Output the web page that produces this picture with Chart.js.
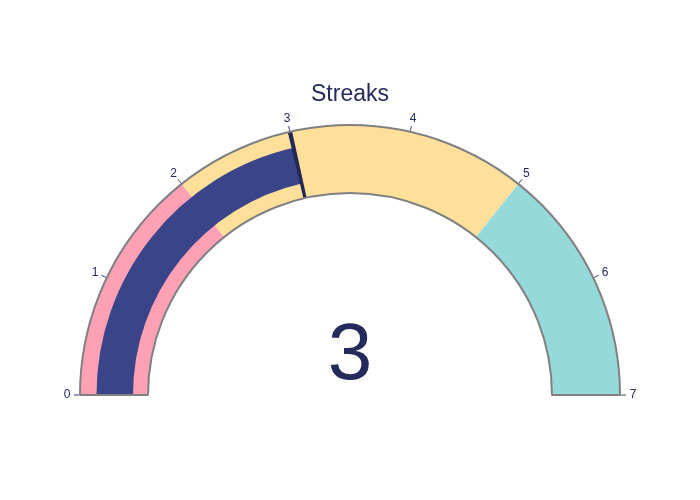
<!DOCTYPE html>
<html>
<head>
<meta charset="utf-8">
<script src="https://cdn.jsdelivr.net/npm/chart.js@4"></script>
<style>
html,body{margin:0;padding:0;background:#fff;overflow:hidden;}
#wrap{position:relative;width:700px;height:500px;overflow:hidden;}
#wrap canvas{position:absolute;left:0;top:0;}
</style>
</head>
<body>
<div id="wrap">
<canvas id="cSteps" width="700" height="790"></canvas>
<canvas id="cBar" width="700" height="790"></canvas>
<canvas id="cThr" width="700" height="790"></canvas>
<canvas id="cOut" width="700" height="790"></canvas>
</div>
<script>
// ---- data ----
const gaugeTitle = "Streaks";
const gaugeMin = 0;
const gaugeMax = 7;
const stepEdges = [0, 2, 5, 7];
const stepColors = ["#FFA1B5", "#FFE09B", "#96D9DB"];
const barValue = 3;
const thresholdValue = 3;
const tickValues = [0, 1, 2, 3, 4, 5, 6, 7];
const tickLabels = ["0", "1", "2", "3", "4", "5", "6", "7"];

const NAVY = "#252a5c";
const T = "rgba(0,0,0,0)";
const span = gaugeMax - gaugeMin;

function baseOptions(radius, cutout, extraPlugins) {
  return {
    responsive: false,
    animation: false,
    events: [],
    rotation: -90,
    circumference: 360,
    radius: radius,
    cutout: cutout,
    layout: { padding: 0 },
    plugins: { legend: { display: false }, tooltip: { enabled: false }, title: { display: false } }
  };
}

// steps ring
const stepData = [];
for (let i = 0; i < stepEdges.length - 1; i++) stepData.push(stepEdges[i + 1] - stepEdges[i]);
stepData.push(span);
new Chart(document.getElementById("cSteps"), {
  type: "doughnut",
  data: { datasets: [{ data: stepData, backgroundColor: stepColors.concat([T]), borderWidth: 0 }] },
  options: baseOptions(270, "74.8%")
});

// value bar
new Chart(document.getElementById("cBar"), {
  type: "doughnut",
  data: { datasets: [{ data: [barValue - gaugeMin, gaugeMax - barValue, span], backgroundColor: ["#3A4489", T, T], borderWidth: 0 }] },
  options: baseOptions(253.5, "85.6%")
});

// threshold line
const thrW = 0.036;
new Chart(document.getElementById("cThr"), {
  type: "doughnut",
  data: { datasets: [{ data: [thresholdValue - gaugeMin - thrW / 2, thrW, gaugeMax - thresholdValue - thrW / 2, span], backgroundColor: [T, "#222957", T, T], borderWidth: 0 }] },
  options: baseOptions(270, "74.8%")
});

// outline + ticks + texts
const textPlugin = {
  id: "gaugeText",
  afterDraw(chart) {
    const arc = chart.getDatasetMeta(0).data[0];
    const cx = arc.x, cy = arc.y, R = arc.outerRadius;
    const ctx = chart.ctx;
    ctx.save();
    // ticks
    tickValues.forEach((v, i) => {
      const th = Math.PI - (v - gaugeMin) / span * Math.PI;
      const c = Math.cos(th), s = Math.sin(th);
      ctx.strokeStyle = "#3a3f8a";
      ctx.lineWidth = 1;
      ctx.beginPath();
      ctx.moveTo(cx + (R + 1) * c, cy - (R + 1) * s);
      ctx.lineTo(cx + (R + 6) * c, cy - (R + 6) * s);
      ctx.stroke();
      ctx.fillStyle = NAVY;
      ctx.font = "12px 'Liberation Sans', Arial, sans-serif";
      ctx.textAlign = "center";
      ctx.textBaseline = "middle";
      ctx.fillText(tickLabels[i], cx + 283 * c, cy - 283 * s);
    });
    // title
    ctx.fillStyle = NAVY;
    ctx.font = "23px 'Liberation Sans', Arial, sans-serif";
    ctx.textAlign = "center";
    ctx.textBaseline = "alphabetic";
    ctx.fillText(gaugeTitle, 350, 101);
    // number
    ctx.font = "80px 'Liberation Sans', Arial, sans-serif";
    ctx.fillText(String(barValue), 350, 379);
    ctx.restore();
  }
};
new Chart(document.getElementById("cOut"), {
  type: "doughnut",
  data: { datasets: [{ data: [span, span], backgroundColor: [T, T], borderColor: ["#808080", T], borderWidth: [2, 0], borderAlign: "center" }] },
  options: baseOptions(270, "74.8%"),
  plugins: [textPlugin]
});
</script>
</body>
</html>
